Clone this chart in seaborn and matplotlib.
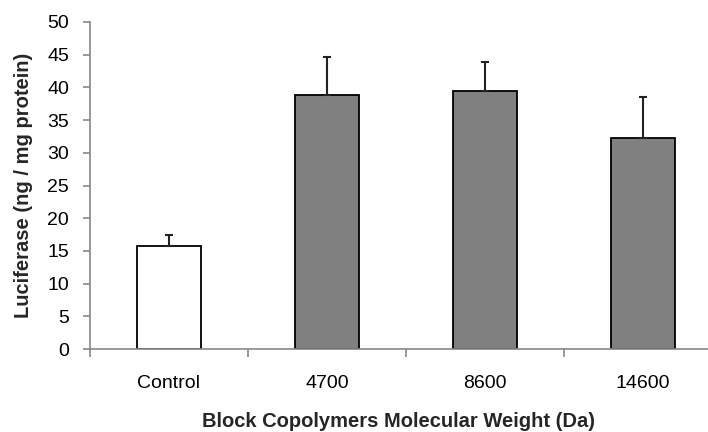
import matplotlib
matplotlib.use("Agg")
import matplotlib.pyplot as plt
import seaborn as sns
import pandas as pd
import numpy as np
from matplotlib.ticker import FixedLocator, NullFormatter

categories = ["Control", "4700", "8600", "14600"]
values = [15.8, 38.9, 39.4, 32.3]
errors = [1.6, 5.7, 4.5, 6.3]
bar_colors = ["#ffffff", "#808080", "#808080", "#808080"]

sns.set_theme(style="white")
plt.rcParams['font.family'] = ['Liberation Sans', 'DejaVu Sans']

df = pd.DataFrame({"cat": categories, "val": values})

fig = plt.figure(figsize=(7.08, 4.32), dpi=100)
ax = fig.add_axes([90/708, (432-349)/432, (708-90)/708, (349-22)/432])

sns.barplot(data=df, x="cat", y="val", hue="cat", palette=bar_colors, legend=False,
            width=0.4, edgecolor="black", linewidth=1.3, ax=ax, errorbar=None)

ax.errorbar(np.arange(len(categories)), values, yerr=[np.zeros(len(errors)), errors],
            fmt="none", ecolor="#222222", elinewidth=1.5, capsize=3.2, capthick=1.5, zorder=3)

ax.set_ylim(0, 50)
ax.set_yticks(np.arange(0, 51, 5))
ax.set_xlim(-0.5, (708-90)/158 - 0.5)

for s in ["top", "right"]:
    ax.spines[s].set_visible(False)
for s in ["left", "bottom"]:
    ax.spines[s].set_color("#888888")
    ax.spines[s].set_linewidth(1.2)
ax.spines["left"].set_bounds(0, 50)

ax.tick_params(axis="y", which="major", direction="out", length=5, width=1.2,
               color="#888888", left=True, labelsize=14, labelcolor="black", pad=10)
ax.tick_params(axis="x", which="major", length=0, labelsize=14, labelcolor="black", pad=19)
ax.xaxis.set_minor_locator(FixedLocator([-0.5, 0.5, 1.5, 2.5]))
ax.xaxis.set_minor_formatter(NullFormatter())
ax.tick_params(axis="x", which="minor", direction="out", length=6, width=1.2,
               color="#888888", bottom=True)

ax.set_xlabel("Block Copolymers Molecular Weight (Da)", fontsize=14.5, fontweight="bold", labelpad=14)
ax.set_ylabel("Luciferase (ng / mg protein)", fontsize=14.5, fontweight="bold", labelpad=10)

fig.savefig("out.png", dpi=100)
